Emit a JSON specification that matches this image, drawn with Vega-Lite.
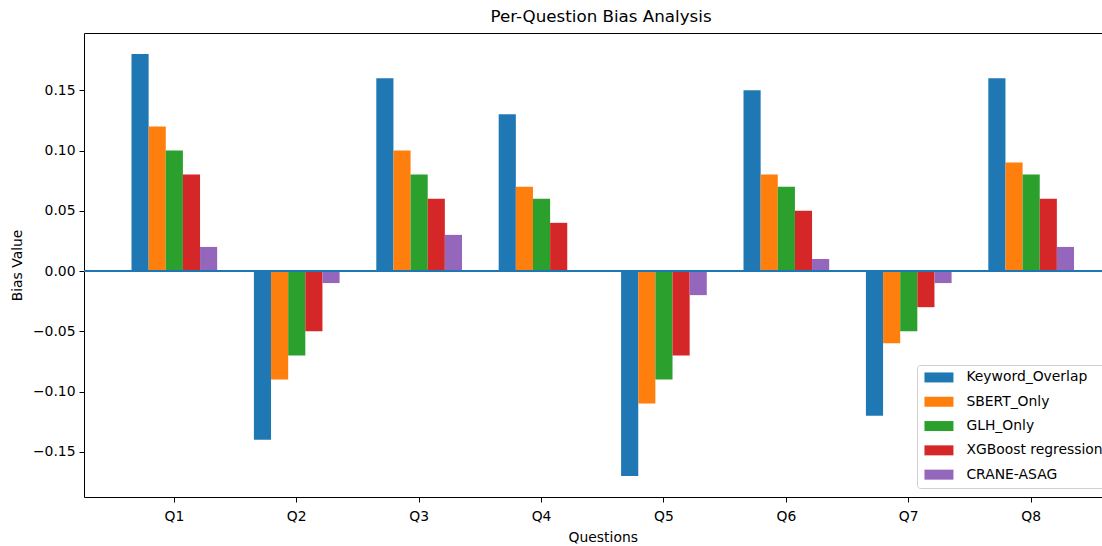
{
  "$schema": "https://vega.github.io/schema/vega-lite/v6.json",
  "width": 1018,
  "height": 464,
  "autosize": {"type": "none"},
  "padding": {"left": 84, "top": 33, "right": 0, "bottom": 49},
  "background": "white",
  "title": {"text": "Per-Question Bias Analysis", "font": "DejaVu Sans", "fontSize": 16.7, "fontWeight": "normal", "color": "#000", "anchor": "middle", "offset": 7, "frame": "group", "dx": 8},
  "data": {"values": [
    {"q": "Q1", "model": "Keyword_Overlap", "bias": 0.18},
    {"q": "Q1", "model": "SBERT_Only", "bias": 0.12},
    {"q": "Q1", "model": "GLH_Only", "bias": 0.10},
    {"q": "Q1", "model": "XGBoost regression", "bias": 0.08},
    {"q": "Q1", "model": "CRANE-ASAG", "bias": 0.02},
    {"q": "Q2", "model": "Keyword_Overlap", "bias": -0.14},
    {"q": "Q2", "model": "SBERT_Only", "bias": -0.09},
    {"q": "Q2", "model": "GLH_Only", "bias": -0.07},
    {"q": "Q2", "model": "XGBoost regression", "bias": -0.05},
    {"q": "Q2", "model": "CRANE-ASAG", "bias": -0.01},
    {"q": "Q3", "model": "Keyword_Overlap", "bias": 0.16},
    {"q": "Q3", "model": "SBERT_Only", "bias": 0.10},
    {"q": "Q3", "model": "GLH_Only", "bias": 0.08},
    {"q": "Q3", "model": "XGBoost regression", "bias": 0.06},
    {"q": "Q3", "model": "CRANE-ASAG", "bias": 0.03},
    {"q": "Q4", "model": "Keyword_Overlap", "bias": 0.13},
    {"q": "Q4", "model": "SBERT_Only", "bias": 0.07},
    {"q": "Q4", "model": "GLH_Only", "bias": 0.06},
    {"q": "Q4", "model": "XGBoost regression", "bias": 0.04},
    {"q": "Q4", "model": "CRANE-ASAG", "bias": 0.0},
    {"q": "Q5", "model": "Keyword_Overlap", "bias": -0.17},
    {"q": "Q5", "model": "SBERT_Only", "bias": -0.11},
    {"q": "Q5", "model": "GLH_Only", "bias": -0.09},
    {"q": "Q5", "model": "XGBoost regression", "bias": -0.07},
    {"q": "Q5", "model": "CRANE-ASAG", "bias": -0.02},
    {"q": "Q6", "model": "Keyword_Overlap", "bias": 0.15},
    {"q": "Q6", "model": "SBERT_Only", "bias": 0.08},
    {"q": "Q6", "model": "GLH_Only", "bias": 0.07},
    {"q": "Q6", "model": "XGBoost regression", "bias": 0.05},
    {"q": "Q6", "model": "CRANE-ASAG", "bias": 0.01},
    {"q": "Q7", "model": "Keyword_Overlap", "bias": -0.12},
    {"q": "Q7", "model": "SBERT_Only", "bias": -0.06},
    {"q": "Q7", "model": "GLH_Only", "bias": -0.05},
    {"q": "Q7", "model": "XGBoost regression", "bias": -0.03},
    {"q": "Q7", "model": "CRANE-ASAG", "bias": -0.01},
    {"q": "Q8", "model": "Keyword_Overlap", "bias": 0.16},
    {"q": "Q8", "model": "SBERT_Only", "bias": 0.09},
    {"q": "Q8", "model": "GLH_Only", "bias": 0.08},
    {"q": "Q8", "model": "XGBoost regression", "bias": 0.06},
    {"q": "Q8", "model": "CRANE-ASAG", "bias": 0.02}
  ]},
  "layer": [
    {
      "mark": {"type": "bar", "clip": false},
      "encoding": {
        "x": {"field": "q", "type": "nominal", "title": "Questions",
              "scale": {"range": [0, 1037.5], "paddingInner": 0.3, "paddingOuter": 0.388},
              "axis": {"labelAngle": 0}},
        "xOffset": {"field": "model", "type": "nominal",
                    "sort": ["Keyword_Overlap", "SBERT_Only", "GLH_Only", "XGBoost regression", "CRANE-ASAG"],
                    "scale": {"paddingInner": 0, "paddingOuter": 0}},
        "y": {"field": "bias", "type": "quantitative", "title": "Bias Value",
              "scale": {"domain": [-0.1875, 0.1975], "nice": false, "zero": false},
              "axis": {"values": [-0.15, -0.1, -0.05, 0, 0.05, 0.1, 0.15], "format": ".2f"}},
        "color": {"field": "model", "type": "nominal",
                  "sort": ["Keyword_Overlap", "SBERT_Only", "GLH_Only", "XGBoost regression", "CRANE-ASAG"],
                  "scale": {"domain": ["Keyword_Overlap", "SBERT_Only", "GLH_Only", "XGBoost regression", "CRANE-ASAG"],
                            "range": ["#1f77b4", "#ff7f0e", "#2ca02c", "#d62728", "#9467bd"]},
                  "legend": {"title": null, "orient": "none", "legendX": 833, "legendY": 332}}
      }
    },
    {
      "mark": {"type": "rule", "color": "#1f77b4", "strokeWidth": 1.5},
      "encoding": {"y": {"datum": 0}}
    }
  ],
  "config": {
    "view": {"stroke": "#000", "strokeWidth": 1},
    "bar": {"opacity": 1},
    "axis": {
      "domain": false, "grid": false,
      "tickColor": "#000", "tickSize": 5, "tickWidth": 1,
      "labelFont": "DejaVu Sans", "labelFontSize": 13.9, "labelColor": "#000", "labelPadding": 4,
      "titleFont": "DejaVu Sans", "titleFontSize": 13.9, "titleFontWeight": "normal", "titleColor": "#000"
    },
    "axisY": {"titlePadding": 8},
    "axisX": {"titlePadding": 8, "labelPadding": 7},
    "legend": {
      "symbolType": "M-1,-1 L4.8,-1 L4.8,1 L-1,1 Z",
      "symbolSize": 100,
      "symbolStrokeWidth": 0,
      "symbolOpacity": 1,
      "labelOffset": 30,
      "padding": 5.5,
      "strokeColor": "#d0d0d0",
      "fillColor": "rgba(255,255,255,0.8)",
      "cornerRadius": 3,
      "rowPadding": 9.3,
      "labelFont": "DejaVu Sans",
      "labelFontSize": 13.9,
      "labelColor": "#000"
    }
  }
}
